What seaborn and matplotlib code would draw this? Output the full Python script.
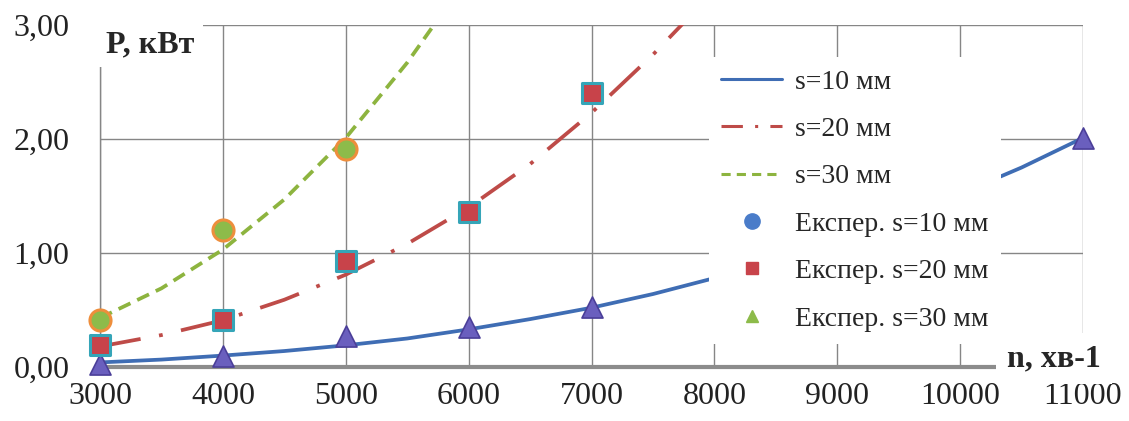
import pandas as pd
import seaborn as sns
import matplotlib.pyplot as plt
from matplotlib.lines import Line2D

# Calculated curves, P (kW) vs n (rpm)
n_calc_10 = [3000, 3500, 4000, 4500, 5000, 5500, 6000, 6500, 7000, 7500,
             8000, 8500, 9000, 9500, 10000, 10500, 11000]
p_calc_10 = [0.04, 0.065, 0.10, 0.14, 0.19, 0.25, 0.33, 0.42, 0.52, 0.64,
             0.78, 0.93, 1.10, 1.30, 1.52, 1.75, 2.01]
n_calc_20 = [3000, 3500, 4000, 4500, 5000, 5500, 6000, 6500, 7000, 7500, 7750]
p_calc_20 = [0.18, 0.28, 0.41, 0.59, 0.81, 1.08, 1.40, 1.78, 2.23, 2.74, 3.02]
n_calc_30 = [3000, 3500, 4000, 4500, 5000, 5500, 5750]
p_calc_30 = [0.43, 0.69, 1.03, 1.47, 2.01, 2.67, 3.05]

# Experimental points
n_exp_10 = [3000, 4000, 5000, 6000, 7000, 11000]
p_exp_10 = [0.03, 0.10, 0.27, 0.35, 0.53, 2.01]
n_exp_20 = [3000, 4000, 5000, 6000, 7000]
p_exp_20 = [0.19, 0.41, 0.93, 1.36, 2.40]
n_exp_30 = [3000, 4000, 5000]
p_exp_30 = [0.41, 1.20, 1.91]

x_ticks = [3000, 4000, 5000, 6000, 7000, 8000, 9000, 10000, 11000]
y_ticks = [0, 1, 2, 3]
y_ticklabels = ["0,00", "1,00", "2,00", "3,00"]

line_labels = ["s=10 мм", "s=20 мм", "s=30 мм"]
exp_labels = ["Експер. s=10 мм", "Експер. s=20 мм", "Експер. s=30 мм"]

sns.set_style("white")
plt.rcParams["font.family"] = ["Liberation Serif", "DejaVu Serif"]

fig = plt.figure(figsize=(11.29, 4.21), dpi=100)
ax = fig.add_axes([0.0886, 0.1283, 0.8707, 0.8123])

grid_col = "#868686"

# Curves
sns.lineplot(x=n_calc_10, y=p_calc_10, ax=ax, color="#3F6DB4", lw=2.7,
             errorbar=None, zorder=2)
sns.lineplot(x=n_calc_20, y=p_calc_20, ax=ax, color="#BE4B48", lw=2.7,
             errorbar=None, linestyle=(0, (11, 5, 1, 5)), zorder=2)
sns.lineplot(x=n_calc_30, y=p_calc_30, ax=ax, color="#8DB43F", lw=2.7,
             errorbar=None, linestyle=(0, (3.5, 2)), zorder=2)

# Experimental markers
sns.scatterplot(x=n_exp_10, y=p_exp_10, ax=ax, marker="^", s=230,
                color="#6A5FBE", edgecolor="#4B3F99", linewidth=1.2,
                zorder=3, clip_on=False)
sns.scatterplot(x=n_exp_20, y=p_exp_20, ax=ax, marker="s", s=200,
                color="#C8434A", edgecolor="#35A5B8", linewidth=2.2,
                zorder=3, clip_on=False)
sns.scatterplot(x=n_exp_30, y=p_exp_30, ax=ax, marker="o", s=230,
                color="#8DBB4A", edgecolor="#EE8E3C", linewidth=2.2,
                zorder=3, clip_on=False)

ax.set_xlim(3000, 11000)
ax.set_ylim(0, 3)
ax.set_xticks(x_ticks)
ax.set_yticks(y_ticks)
ax.set_yticklabels(y_ticklabels)
ax.tick_params(axis="both", labelsize=23, colors="#222222")
ax.tick_params(axis="x", direction="out", length=5, width=2, color="#777777", pad=6)
ax.tick_params(axis="y", direction="out", length=8, width=1, color=grid_col, pad=14)
ax.grid(True, color=grid_col, lw=1.0)
ax.set_axisbelow(True)
for side in ["top", "right"]:
    ax.spines[side].set_visible(False)
ax.spines["left"].set_color(grid_col)
ax.spines["left"].set_linewidth(1.0)
ax.spines["bottom"].set_color("#8C8C8C")
ax.spines["bottom"].set_linewidth(3.0)
ax.set_xlabel("")
ax.set_ylabel("")

# Axis titles inside the plot, with white boxes
ax.text(0.006, 0.985, "P, кВт", transform=ax.transAxes, fontsize=23,
        fontweight="bold", ha="left", va="top", zorder=6,
        bbox=dict(facecolor="white", edgecolor="none", pad=6))
ax.text(1.018, 0.025, "n, хв-1", transform=ax.transAxes, fontsize=23,
        fontweight="bold", ha="right", va="center", zorder=6, clip_on=False,
        bbox=dict(facecolor="white", edgecolor="none", pad=8))

handles = [
    Line2D([], [], color="#3F6DB4", lw=2.2),
    Line2D([], [], color="#BE4B48", lw=2.2, linestyle=(0, (7, 4, 1, 4))),
    Line2D([], [], color="#8DB43F", lw=2.2, linestyle=(0, (3, 2))),
    Line2D([], [], color="#4A7CC9", marker="o", linestyle="none", markersize=11),
    Line2D([], [], color="#C8434A", marker="s", linestyle="none", markersize=8),
    Line2D([], [], color="#8DBB4A", marker="^", linestyle="none", markersize=9),
]
leg = ax.legend(handles, line_labels + exp_labels, loc="upper left",
                bbox_to_anchor=(0.605, 0.948), fontsize=20, frameon=True,
                framealpha=1, facecolor="white", edgecolor="none",
                labelspacing=0.79, handlelength=2.2, handletextpad=0.45,
                borderpad=0.45, fancybox=False)
leg.set_zorder(5)

fig.savefig("out.png", dpi=100)
